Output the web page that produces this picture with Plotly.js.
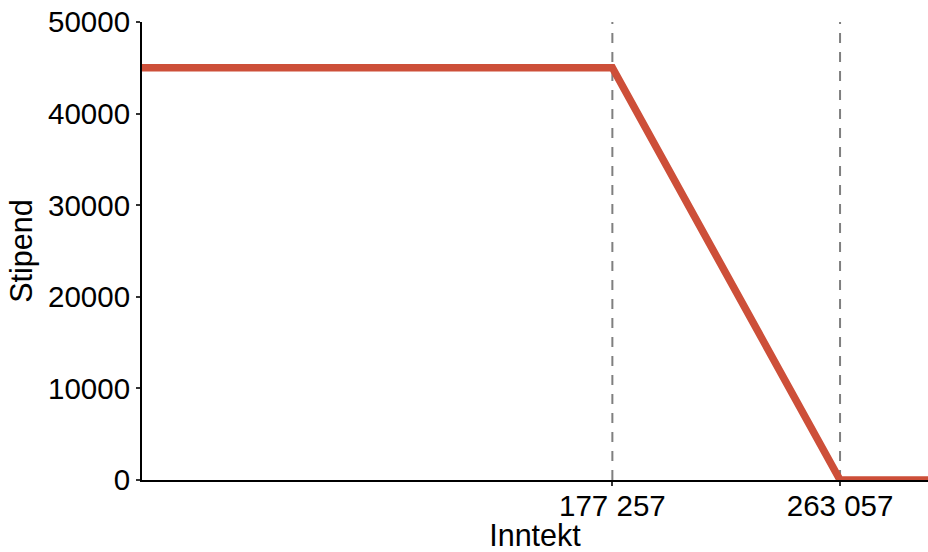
<!DOCTYPE html>
<html>
<head>
<meta charset="utf-8">
<script src="https://cdn.plot.ly/plotly-3.0.1.min.js"></script>
<style>html,body{margin:0;padding:0;background:#fff;}#chart{width:928px;height:552px;}</style>
</head>
<body>
<div id="chart"></div>
<script>
// Data
var income = [0, 177257, 263057, 300000];
var stipend = [45000, 45000, 0, 0];
var breakpoints = [177257, 263057];
var breakLabels = ["177 257", "263 057"];
var yTicks = [0, 10000, 20000, 30000, 40000, 50000];
var yTickLabels = ["0", "10000", "20000", "30000", "40000", "50000"];

var font = "Liberation Sans, Arial, sans-serif";

var shapes = breakpoints.map(function (b) {
  return {
    type: "line", xref: "x", yref: "y",
    x0: b, x1: b, y0: 0, y1: 50000,
    line: { color: "#7f7f7f", width: 2, dash: "10px,9px" },
    layer: "below"
  };
});

var trace = {
  x: income, y: stipend, type: "scatter", mode: "lines",
  line: { color: "#CD4F39", width: 7.5 },
  hoverinfo: "skip", showlegend: false
};

var layout = {
  width: 928, height: 552,
  margin: { l: 142, r: 0, t: 22, b: 72 },
  paper_bgcolor: "#fff", plot_bgcolor: "#fff",
  font: { family: font, color: "#000", size: 29.5 },
  showlegend: false,
  shapes: shapes,
  xaxis: {
    range: [0, 296200],
    tickmode: "array", tickvals: breakpoints, ticktext: breakLabels,
    showgrid: false, zeroline: false,
    showline: true, linecolor: "#000", linewidth: 2,
    ticks: "outside", ticklen: 4, tickwidth: 2, tickcolor: "#333",
    ticklabelstandoff: -5,
    tickfont: { family: font, size: 29.5, color: "#000" },
    title: { text: "Inntekt", font: { family: font, size: 30.5, color: "#000" }, standoff: 4 }
  },
  yaxis: {
    range: [0, 50000],
    tickmode: "array", tickvals: yTicks, ticktext: yTickLabels,
    showgrid: false, zeroline: false,
    showline: true, linecolor: "#000", linewidth: 2,
    ticks: "outside", ticklen: 4, tickwidth: 2, tickcolor: "#333",
    tickfont: { family: font, size: 29.5, color: "#000" },
    title: { text: "Stipend", font: { family: font, size: 30.5, color: "#000" }, standoff: 6 }
  }
};

Plotly.newPlot("chart", [trace], layout, { staticPlot: true, displayModeBar: false });
</script>
</body>
</html>
